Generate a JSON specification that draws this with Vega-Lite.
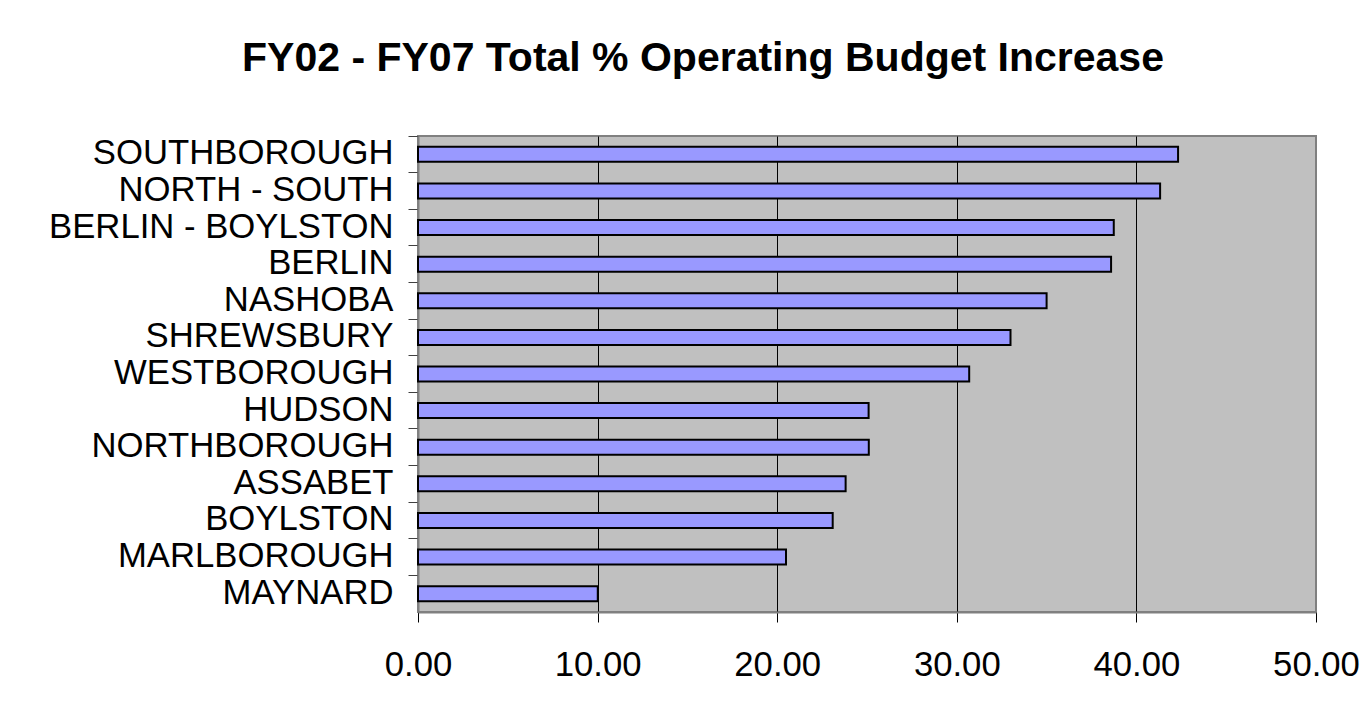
{
  "$schema": "https://vega.github.io/schema/vega-lite/v6.json",
  "width": 898,
  "height": 476,
  "autosize": "none",
  "padding": {"left": 418, "top": 136, "right": 56, "bottom": 102},
  "background": "white",
  "title": {
    "text": "FY02 - FY07 Total % Operating Budget Increase",
    "font": "Liberation Sans",
    "fontSize": 41,
    "fontWeight": "bold",
    "color": "black",
    "anchor": "middle",
    "dx": -164,
    "offset": 24,
    "baseline": "alphabetic"
  },
  "data": {
    "values": [
      {"district": "SOUTHBOROUGH", "pct": 42.32},
      {"district": "NORTH - SOUTH", "pct": 41.32},
      {"district": "BERLIN - BOYLSTON", "pct": 38.74},
      {"district": "BERLIN", "pct": 38.59},
      {"district": "NASHOBA", "pct": 35.0},
      {"district": "SHREWSBURY", "pct": 32.99},
      {"district": "WESTBOROUGH", "pct": 30.69},
      {"district": "HUDSON", "pct": 25.09},
      {"district": "NORTHBOROUGH", "pct": 25.1},
      {"district": "ASSABET", "pct": 23.81},
      {"district": "BOYLSTON", "pct": 23.09},
      {"district": "MARLBOROUGH", "pct": 20.49},
      {"district": "MAYNARD", "pct": 10.01}
    ]
  },
  "encoding": {
    "x": {
      "field": "pct",
      "type": "quantitative",
      "scale": {"domain": [0, 50], "nice": false},
      "title": null,
      "axis": {
        "values": [0, 10, 20, 30, 40, 50],
        "format": ".2f",
        "labelFont": "Liberation Sans",
        "labelFontSize": 34.7,
        "labelColor": "black",
        "labelPadding": 26,
        "tickSize": 10,
        "tickColor": "black",
        "domainColor": "#808080",
        "domainWidth": 2,
        "grid": true,
        "gridColor": {"condition": {"test": "datum.value == 0 || datum.value == 50", "value": "#808080"}, "value": "black"},
        "gridWidth": 1,
        "gridOpacity": 1,
        "labelFlush": false,
        "labelOverlap": false
      }
    }
  },
  "layer": [
    {
      "mark": {"type": "bar", "fill": "#9999FF", "stroke": "black", "strokeWidth": 2, "size": 15},
      "encoding": {
        "y": {
          "field": "district",
          "type": "nominal",
          "sort": null,
          "title": null,
          "scale": {"paddingInner": 0, "paddingOuter": 0},
          "axis": {
            "orient": "left",
            "labelFont": "Liberation Sans",
            "labelFontSize": 34.7,
            "labelColor": "black",
            "tickSize": 10,
            "tickOpacity": 0,
            "labelPadding": 15,
            "domain": false,
            "labelLimit": 500
          }
        }
      }
    },
    {
      "mark": {"type": "bar", "opacity": 0},
      "encoding": {
        "y": {
          "field": "district",
          "type": "nominal",
          "sort": null,
          "title": null,
          "axis": {
            "orient": "left",
            "labels": false,
            "bandPosition": 0,
            "tickSize": 10,
            "tickColor": "#404040",
            "domainColor": "#808080",
            "domainWidth": 2
          }
        }
      }
    }
  ],
  "resolve": {"axis": {"y": "independent"}},
  "config": {
    "view": {"fill": "#C0C0C0", "stroke": "#808080", "strokeWidth": 2}
  }
}
